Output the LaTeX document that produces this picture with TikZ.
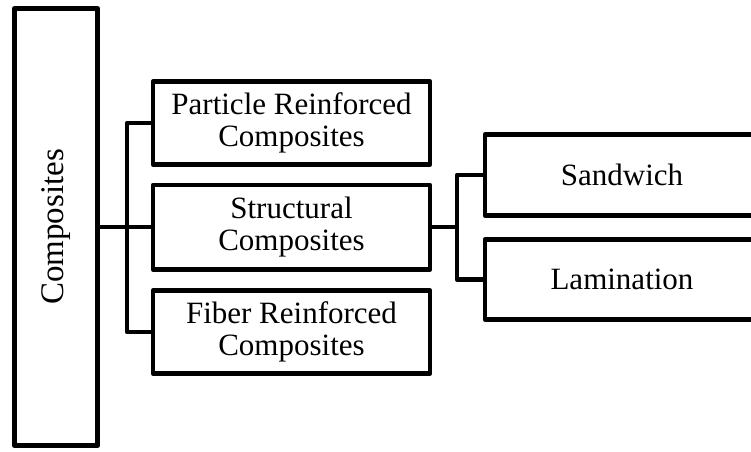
\documentclass[tikz,border=0pt]{standalone}
\usepackage{fontspec}
\setmainfont{Liberation Serif}
\begin{document}
\begin{tikzpicture}[x=1pt,y=-1pt,
  box/.style={draw=black, line width=4.5pt, line join=round, fill=white,
    inner sep=0pt, align=center, font=\fontsize{31}{32}\selectfont},
  link/.style={draw=black, line width=4.5pt, line join=round}]
  \useasboundingbox (0,0) rectangle (751,451);
  \clip (0,0) rectangle (751,451);

  % root box with vertical label
  \node[box, minimum width=83.4pt, minimum height=437.2pt] (comp) at (56,227)
    {\rotatebox{90}{\fontsize{33}{34}\selectfont Composites}};

  % second level
  \node[box, minimum width=277pt, minimum height=83pt] (part) at (291.5,123)
    {Particle Reinforced\\Composites};
  \node[box, minimum width=277pt, minimum height=84.5pt] (struc) at (291.5,227.3)
    {Structural\\Composites};
  \node[box, minimum width=277pt, minimum height=83pt] (fiber) at (291.5,332)
    {Fiber Reinforced\\Composites};

  % third level
  \node[box, minimum width=274pt, minimum height=81pt] (sand) at (622,175) {Sandwich};
  \node[box, minimum width=274pt, minimum height=80pt] (lam) at (622,279.5) {Lamination};

  % branch points
  \coordinate (b1) at (127,227);
  \coordinate (b2) at (457,227);

  % connectors
  \draw[link] (comp.east |- b1) -- (struc.west |- b1);
  \draw[link] (part.west) -| (b1) |- (fiber.west);
  \draw[link] (struc.east |- b2) -- (b2);
  \draw[link] (sand.west) -| (b2) |- (lam.west);
\end{tikzpicture}
\end{document}
